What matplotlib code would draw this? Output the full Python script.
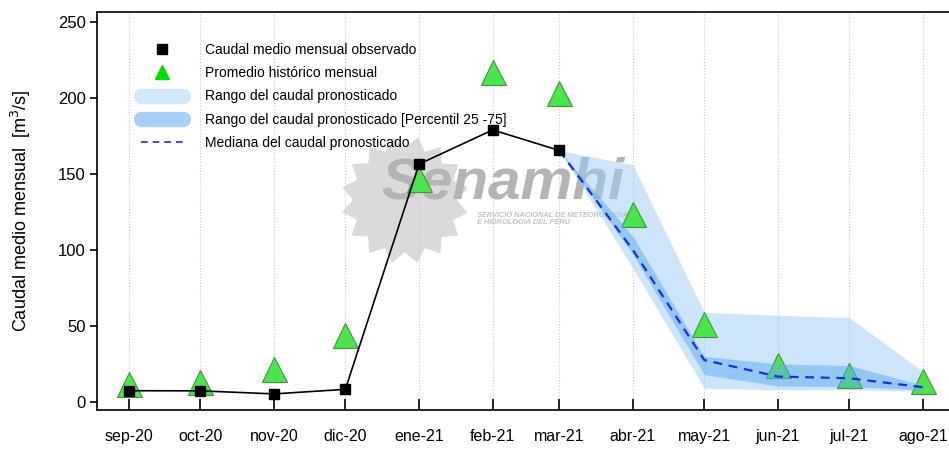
import numpy as np
import matplotlib.pyplot as plt
from matplotlib.lines import Line2D
from matplotlib.patches import Polygon

plt.rcParams['font.family'] = ['Liberation Sans', 'DejaVu Sans']

# data
months = np.array(['2020-09-01', '2020-10-01', '2020-11-01', '2020-12-01',
                   '2021-01-01', '2021-02-01', '2021-03-01', '2021-04-01',
                   '2021-05-01', '2021-06-01', '2021-07-01', '2021-08-01'],
                  dtype='datetime64[D]')
month_labels = ['sep-20', 'oct-20', 'nov-20', 'dic-20', 'ene-21', 'feb-21',
                'mar-21', 'abr-21', 'may-21', 'jun-21', 'jul-21', 'ago-21']

observado = [7.4, 7.3, 5.3, 8.3, 156.5, 179, 165.5]
historico = [12, 13, 22, 44, 147, 217, 203, 124, 51, 24, 18, 14]

# forecast from mar-21 to ago-21
pron_min = [165.5, 88, 9, 8, 8, 7]
pron_p25 = [165.5, 97, 18, 10.5, 10, 8]
pron_med = [165.5, 100, 27.6, 16.7, 15.6, 9.7]
pron_p75 = [165.5, 109, 30, 25, 24, 11]
pron_max = [165.5, 156, 59, 57, 55.5, 20]

light_blue = '#9fcbf7'
dark_blue = '#5dabef'
green = '#4de34d'

fig = plt.figure(figsize=(9.49, 4.49), dpi=100)
ax = fig.add_axes([97 / 949, 39 / 449, 1 - 97 / 949, 398 / 449])

# watermark (Senamhi logo, roughly), kept behind the data
ang = np.linspace(0, 2 * np.pi, 33)[:-1]
rad = np.where(np.arange(32) % 2 == 0, 64, 52)
cx, cy = 405, 200
sun = np.column_stack([(cx + rad * np.cos(ang + 0.2)) / 949,
                       1 - (cy + rad * np.sin(ang + 0.2)) / 449])
ax.add_patch(Polygon(sun, closed=True, transform=fig.transFigure,
                     facecolor='#dadada', edgecolor='none', zorder=0.5))
ax.text(0.402, 0.592, 'Senamhi', fontsize=42, fontweight='bold', style='italic',
        color='#b4b4b4', ha='left', va='center', zorder=0.6,
        transform=fig.transFigure)
ax.text(0.503, 0.512, 'SERVICIO NACIONAL DE METEOROLOGIA\nE HIDROLOGIA DEL PERU',
        fontsize=5.3, fontweight='bold', style='italic', color='#c0c0c0',
        ha='left', va='center', linespacing=1.1, zorder=0.6,
        transform=fig.transFigure)

fc = months[6:]
ax.fill_between(fc, pron_min, pron_max, color=light_blue, alpha=0.5, linewidth=0, zorder=2)
ax.plot(months, historico, linestyle='none', marker='^', markersize=18,
        markerfacecolor=green, markeredgecolor='#3a9a3a', markeredgewidth=0.8, zorder=3)
ax.fill_between(fc, pron_p25, pron_p75, color=dark_blue, alpha=0.5, linewidth=0, zorder=4)
ax.plot(fc, pron_med, color='#1a2ee6', linestyle=(0, (4, 3)), linewidth=1.6, zorder=5)
ax.plot(months[:7], observado, color='black', linewidth=1.2, marker='s',
        markersize=7, zorder=6)

ax.set_xlim(np.datetime64('2020-08-18T12:00'), np.datetime64('2021-08-12'))
ax.set_ylim(-5.3, 256.6)
ax.set_xticks(months)
ax.set_xticklabels(month_labels, fontsize=11.5)
ax.set_yticks([0, 50, 100, 150, 200, 250])
ax.tick_params(axis='x', direction='in', length=8, width=1.2, pad=14)
ax.tick_params(axis='y', direction='out', length=5, width=1.2, pad=3, labelsize=12)
ax.grid(axis='x', color='#c8c8c8', linestyle=':', linewidth=0.8)
ax.set_axisbelow(True)
for side in ['left', 'top', 'bottom']:
    ax.spines[side].set_linewidth(1.2)
ax.spines['right'].set_visible(False)
ax.set_ylabel('Caudal medio mensual  [m$^3$/s]', fontsize=13, labelpad=18)

handles = [
    Line2D([], [], linestyle='none', marker='s', color='black', markersize=7),
    Line2D([], [], linestyle='none', marker='^', color='#00e000', markersize=10),
    Line2D([], [], color='#d3e7fc', linewidth=11, solid_capstyle='round'),
    Line2D([], [], color='#a7d0f7', linewidth=11, solid_capstyle='round'),
    Line2D([], [], color='#1a2ee6', linewidth=1.2, linestyle=(0, (4, 3))),
]
labels = ['Caudal medio mensual observado', 'Promedio histórico mensual',
          'Rango del caudal pronosticado',
          'Rango del caudal pronosticado [Percentil 25 -75]',
          'Mediana del caudal pronosticado']
ax.legend(handles, labels, loc='upper left', bbox_to_anchor=(0.052, 0.922),
          frameon=False, fontsize=10, handlelength=3.0, handletextpad=1.6,
          labelspacing=0.66, borderpad=0, borderaxespad=0)

plt.savefig('out.png', dpi=100)
